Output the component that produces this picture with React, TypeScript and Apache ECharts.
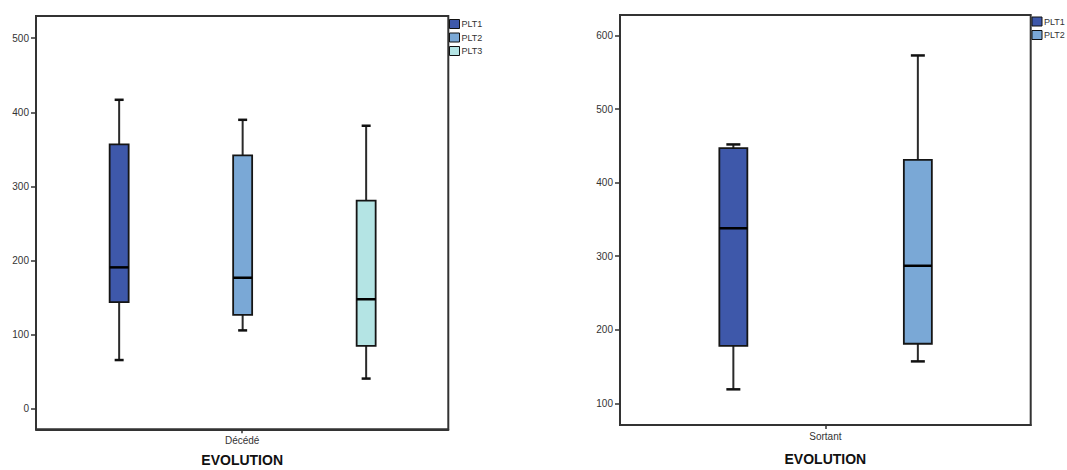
import React, { useEffect, useRef } from "react";
import * as echarts from "echarts";

// Categories
const leftCategories = ["Décédé"];
const rightCategories = ["Sortant"];
const xAxisTitle = "EVOLUTION";
const leftSeriesNames = ["PLT1", "PLT2", "PLT3"];
const rightSeriesNames = ["PLT1", "PLT2"];

// Box values: [low whisker, Q1, median, Q3, high whisker]
const leftPLT1 = [66, 144, 191, 357, 417];
const leftPLT2 = [106, 127, 177, 342, 390];
const leftPLT3 = [41, 85, 148, 281, 382];
const rightPLT1 = [119, 178, 338, 447, 452];
const rightPLT2 = [157, 181, 287, 431, 573];

const leftValues = [leftPLT1, leftPLT2, leftPLT3];
const rightValues = [rightPLT1, rightPLT2];

const colors = ["#3E58AA", "#7AA8D6", "#B4E4E4"];

const FONT = "'Liberation Sans', Arial, sans-serif";
const TXT = "#333";

function makeRender(offset: number, boxW: number, capW: number, color: string) {
  return (params: any, api: any) => {
    const cat = api.value(0);
    const low = api.value(1);
    const q1 = api.value(2);
    const med = api.value(3);
    const q3 = api.value(4);
    const high = api.value(5);
    const cx = api.coord([cat, med])[0] + offset;
    const y = (v: number) => api.coord([cat, v])[1];
    const wStyle = { stroke: "#2a2a2a", lineWidth: 2 };
    return {
      type: "group",
      children: [
        { type: "line", shape: { x1: cx, y1: y(high), x2: cx, y2: y(q3) }, style: wStyle },
        { type: "line", shape: { x1: cx, y1: y(q1), x2: cx, y2: y(low) }, style: wStyle },
        { type: "line", shape: { x1: cx - capW / 2, y1: y(high), x2: cx + capW / 2, y2: y(high) }, style: { stroke: "#111", lineWidth: 2.5 } },
        { type: "line", shape: { x1: cx - capW / 2, y1: y(low), x2: cx + capW / 2, y2: y(low) }, style: { stroke: "#111", lineWidth: 2.5 } },
        {
          type: "rect",
          shape: { x: cx - boxW / 2, y: y(q3), width: boxW, height: y(q1) - y(q3) },
          style: { fill: color, stroke: "#151515", lineWidth: 1.8 },
        },
        { type: "line", shape: { x1: cx - boxW / 2, y1: y(med), x2: cx + boxW / 2, y2: y(med) }, style: { stroke: "#000", lineWidth: 2.5 } },
      ],
    };
  };
}

export default function App() {
  const ref = useRef<HTMLDivElement>(null);
  useEffect(() => {
    if (!ref.current) return;
    const chart = echarts.init(ref.current, undefined, { renderer: "svg" });

    const yAxisCommon = {
      type: "value",
      splitNumber: 5,
      splitLine: { show: false },
      axisLine: { show: true, onZero: false, lineStyle: { color: "#333", width: 2 } },
      axisTick: { show: true, length: 5, lineStyle: { color: "#333", width: 1.5 } },
      axisLabel: { fontSize: 10, color: TXT, fontFamily: FONT, margin: 7, showMinLabel: false, showMaxLabel: false },
    };
    const xAxisCommon = {
      type: "category",
      boundaryGap: true,
      axisLine: { show: true, onZero: false, lineStyle: { color: "#333", width: 2 } },
      axisTick: { show: true, alignWithLabel: true, length: 4, lineStyle: { color: "#333", width: 1.5 } },
      axisLabel: { fontSize: 10, color: TXT, fontFamily: FONT, margin: 6 },
      name: xAxisTitle,
      nameLocation: "middle",
      nameTextStyle: { fontSize: 14, fontWeight: "bold", color: "#111", fontFamily: FONT },
    };

    const leftOffsets = [-123, 0.5, 124];
    const rightOffsets = [-92, 92.5];

    const series: any[] = [];
    leftValues.forEach((vals, i) => {
      series.push({
        type: "custom",
        name: leftSeriesNames[i],
        xAxisIndex: 0,
        yAxisIndex: 0,
        itemStyle: { color: colors[i] },
        encode: { x: 0, y: [1, 2, 3, 4, 5] },
        data: [[0, ...vals]],
        renderItem: makeRender(leftOffsets[i], 19, 9, colors[i]),
      });
    });
    rightValues.forEach((vals, i) => {
      series.push({
        type: "custom",
        name: rightSeriesNames[i],
        xAxisIndex: 1,
        yAxisIndex: 1,
        itemStyle: { color: colors[i] },
        encode: { x: 0, y: [1, 2, 3, 4, 5] },
        data: [[0, ...vals]],
        renderItem: makeRender(rightOffsets[i], 28, 14, colors[i]),
      });
    });

    const legendCommon = {
      orient: "vertical",
      icon: "rect",
      itemWidth: 10,
      itemHeight: 9,
      itemGap: 3.5,
      padding: 0,
      selectedMode: false,
      itemStyle: { borderColor: "#111", borderWidth: 1 },
      textStyle: { fontSize: 9, color: TXT, fontFamily: FONT, padding: [0, 0, 0, -3] },
    };

    chart.setOption({
      animation: false,
      backgroundColor: "#fff",
      grid: [
        { left: 36, right: 1067 - 448.3, top: 16, bottom: 470 - 429.3, show: true, borderColor: "#333", borderWidth: 2, containLabel: false, outerBoundsMode: "none" },
        { left: 620, right: 1067 - 1030.7, top: 15, bottom: 45, show: true, borderColor: "#333", borderWidth: 2, containLabel: false, outerBoundsMode: "none" },
      ],
      xAxis: [
        { ...xAxisCommon, gridIndex: 0, data: leftCategories, nameGap: 24 },
        { ...xAxisCommon, gridIndex: 1, data: rightCategories, nameGap: 27 },
      ],
      yAxis: [
        { ...yAxisCommon, gridIndex: 0, min: -27.4, max: 530 },
        { ...yAxisCommon, gridIndex: 1, min: 70.5, max: 628 },
      ],
      legend: [
        { ...legendCommon, left: 449, top: 19, data: leftSeriesNames },
        { ...legendCommon, left: 1031.5, top: 16.5, data: rightSeriesNames },
      ],
      series,
    });

    return () => chart.dispose();
  }, []);

  return (
    <div
      ref={ref}
      style={{ position: "absolute", left: 0, top: 0, width: 1067, height: 470, background: "#fff" }}
    />
  );
}
